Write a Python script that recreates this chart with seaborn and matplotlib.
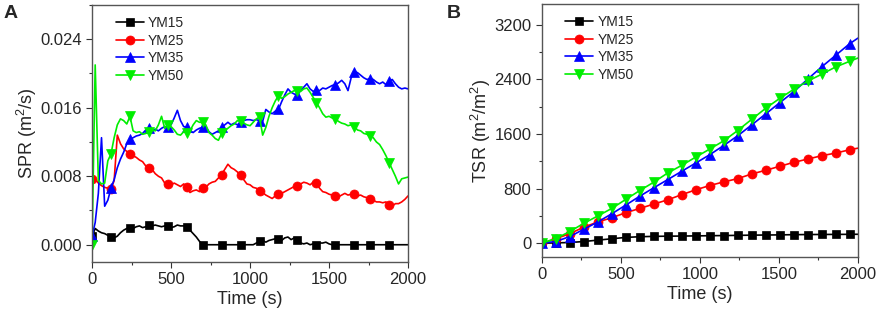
import numpy as np
import matplotlib
matplotlib.use("Agg")
import matplotlib.pyplot as plt
import seaborn as sns
from matplotlib.ticker import MultipleLocator, FormatStrFormatter

# Panel A: smoke production rate, sampled every 20 s
spr_time = np.arange(0, 2001, 20)

spr_ym15 = [
    0.0010, 0.0019, 0.0016, 0.0014, 0.0013, 0.0011, 0.0009, 0.0008, 0.0010, 0.0014,
    0.0017, 0.0019, 0.0020, 0.0019, 0.0021, 0.0022, 0.0020, 0.0021, 0.0023, 0.0022,
    0.0023, 0.0022, 0.0021, 0.0022, 0.0022, 0.0020, 0.0021, 0.0023, 0.0022, 0.0022,
    0.0021, 0.0017, 0.0013, 0.0009, 0.0004,
    0.0, 0.0, 0.0, 0.0, 0.0, 0.0, 0.0, 0.0, 0.0, 0.0, 0.0, 0.0, 0.0, 0.0, 0.0, 0.0, 0.0,
    0.0002, 0.0004, 0.0005, 0.0003, 0.0005, 0.0006, 0.0007, 0.0007, 0.0005, 0.0008,
    0.0009, 0.0006, 0.0008, 0.0006, 0.0002, 0.0001, 0.0002, 0.0000, 0.0001, 0.0000,
    0.0002, 0.0002, 0.0003, 0.0001,
    0.0, 0.0, 0.0, 0.0, 0.0, 0.0, 0.0, 0.0, 0.0, 0.0, 0.0, 0.0, 0.0, 0.0, 0.0, 0.0,
    0.0, 0.0, 0.0, 0.0, 0.0, 0.0, 0.0, 0.0, 0.0,
]
spr_ym25 = [
    0.0077, 0.0077, 0.0072, 0.0069, 0.0067, 0.0066, 0.0065, 0.0075, 0.0128, 0.0118,
    0.0112, 0.0109, 0.0106, 0.0104, 0.0102, 0.0099, 0.0097, 0.0092, 0.0090, 0.0088,
    0.0083, 0.0080, 0.0078, 0.0072, 0.0071, 0.0070, 0.0072, 0.0070, 0.0068, 0.0071,
    0.0068, 0.0061, 0.0063, 0.0064, 0.0062, 0.0066, 0.0067, 0.0071, 0.0073, 0.0074,
    0.0078, 0.0082, 0.0088, 0.0094, 0.0090, 0.0088, 0.0085, 0.0081, 0.0076, 0.0071,
    0.0070, 0.0067, 0.0066, 0.0063, 0.0061, 0.0058, 0.0056, 0.0054, 0.0057, 0.0059,
    0.0060, 0.0062, 0.0064, 0.0066, 0.0068, 0.0069, 0.0071, 0.0073, 0.0072, 0.0070,
    0.0073, 0.0072, 0.0066, 0.0062, 0.0061, 0.0059, 0.0058, 0.0057, 0.0056, 0.0058,
    0.0060, 0.0058, 0.0059, 0.0059, 0.0057, 0.0058, 0.0056, 0.0055, 0.0053, 0.0052,
    0.0050, 0.0050, 0.0049, 0.0050, 0.0046, 0.0045, 0.0048, 0.0048, 0.0050, 0.0053,
    0.0057,
]
spr_ym35 = [
    0.0010, 0.0026, 0.0060, 0.0125, 0.0045, 0.0052, 0.0066, 0.0076, 0.0090, 0.0100,
    0.0108, 0.0118, 0.0123, 0.0125, 0.0127, 0.0128, 0.0130, 0.0134, 0.0136, 0.0133,
    0.0135, 0.0133, 0.0136, 0.0138, 0.0137, 0.0140, 0.0148, 0.0157, 0.0145, 0.0138,
    0.0137, 0.0133, 0.0131, 0.0134, 0.0136, 0.0137, 0.0138, 0.0132, 0.0129, 0.0131,
    0.0133, 0.0137, 0.0140, 0.0143, 0.0140, 0.0142, 0.0140, 0.0143, 0.0145, 0.0146,
    0.0146, 0.0145, 0.0146, 0.0145, 0.0144, 0.0158, 0.0155, 0.0153, 0.0156, 0.0158,
    0.0167, 0.0175, 0.0182, 0.0178, 0.0176, 0.0175, 0.0180, 0.0184, 0.0188, 0.0182,
    0.0179, 0.0181, 0.0180, 0.0183, 0.0182, 0.0184, 0.0186, 0.0187, 0.0189, 0.0192,
    0.0188, 0.0180, 0.0195, 0.0202, 0.0201, 0.0198, 0.0195, 0.0193, 0.0194, 0.0193,
    0.0190, 0.0188, 0.0190, 0.0187, 0.0191, 0.0193, 0.0188, 0.0184, 0.0182, 0.0183,
    0.0182,
]
spr_ym50 = [
    0.0000, 0.0210, 0.0075, 0.0071, 0.0072, 0.0098, 0.0106, 0.0125, 0.0140, 0.0147,
    0.0145, 0.0141, 0.0150, 0.0133, 0.0131, 0.0132, 0.0129, 0.0130, 0.0132, 0.0134,
    0.0133, 0.0140, 0.0150, 0.0136, 0.0140, 0.0138, 0.0134, 0.0129, 0.0128, 0.0132,
    0.0131, 0.0133, 0.0140, 0.0145, 0.0143, 0.0143, 0.0140, 0.0131, 0.0128, 0.0124,
    0.0122, 0.0130, 0.0134, 0.0136, 0.0139, 0.0141, 0.0145, 0.0144, 0.0142, 0.0140,
    0.0139, 0.0143, 0.0147, 0.0149, 0.0128, 0.0137, 0.0150, 0.0160, 0.0168, 0.0174,
    0.0171, 0.0173, 0.0176, 0.0178, 0.0180, 0.0180, 0.0179, 0.0182, 0.0183, 0.0178,
    0.0172, 0.0166, 0.0160, 0.0153, 0.0149, 0.0150, 0.0148, 0.0147, 0.0144, 0.0142,
    0.0141, 0.0139, 0.0140, 0.0138, 0.0134, 0.0133, 0.0130, 0.0129, 0.0127, 0.0125,
    0.0120, 0.0117, 0.0111, 0.0104, 0.0096, 0.0088, 0.0080, 0.0071, 0.0077, 0.0078,
    0.0079,
]

# Panel B: total smoke release
tsr_time = [0, 89, 177, 266, 354, 443, 531, 620, 708, 797, 885, 974, 1062,
            1151, 1239, 1328, 1416, 1505, 1593, 1682, 1770, 1859, 1947, 2000]
tsr_ym15 = [0, 5, 10, 25, 45, 65, 85, 95, 100, 103, 105, 107, 110,
            112, 115, 118, 120, 122, 125, 127, 128, 129, 130, 131]
tsr_ym25 = [0, 65, 140, 235, 310, 373, 446, 509, 572, 635, 710, 781, 844,
            897, 945, 1013, 1067, 1125, 1183, 1231, 1280, 1319, 1367, 1391]
tsr_ym35 = [0, 25, 97, 204, 310, 431, 557, 688, 810, 931, 1052, 1173, 1294,
            1430, 1571, 1731, 1891, 2055, 2215, 2400, 2579, 2749, 2918, 3001]
tsr_ym50 = [0, 68, 170, 291, 398, 509, 640, 771, 892, 1028, 1139, 1260, 1377,
            1498, 1648, 1813, 1973, 2119, 2250, 2371, 2472, 2579, 2661, 2710]

labels = ["YM15", "YM25", "YM35", "YM50"]
colors = ["#000000", "#ff0000", "#0000ff", "#00ee00"]
markers = ["s", "o", "^", "v"]
msizes = [5.5, 6.5, 7, 7]

sns.set_style("ticks")
plt.rcParams["font.family"] = ["Liberation Sans", "DejaVu Sans"]
plt.rcParams["mathtext.fontset"] = "custom"
plt.rcParams["mathtext.rm"] = "Liberation Sans"
plt.rcParams["mathtext.it"] = "Liberation Sans:italic"

fig = plt.figure(figsize=(8.79, 3.11), dpi=100)
ax_a = fig.add_axes([0.1047, 0.158, 0.3595, 0.826])
ax_b = fig.add_axes([0.6163, 0.174, 0.3597, 0.813])

# markers every ~118 s on the 20 s grid
mark_a = [int(round(m / 20)) for m in np.arange(0, 2000, 118)]
mark_b = list(range(len(tsr_time) - 1))

spr_series = [spr_ym15, spr_ym25, spr_ym35, spr_ym50]
tsr_series = [tsr_ym15, tsr_ym25, tsr_ym35, tsr_ym50]

for lab, col, mk, ms, ya in zip(labels, colors, markers, msizes, spr_series):
    sns.lineplot(x=spr_time, y=ya, ax=ax_a, color=col, marker=mk, markersize=ms,
                 markeredgecolor=col, markeredgewidth=0.5, linewidth=1.2,
                 markevery=mark_a, label=lab)

for lab, col, mk, ms, yb in zip(labels, colors, markers, msizes, tsr_series):
    sns.lineplot(x=tsr_time, y=yb, ax=ax_b, color=col, marker=mk, markersize=ms,
                 markeredgecolor=col, markeredgewidth=0.5, linewidth=1.2,
                 markevery=mark_b, label=lab)

ax_a.set_xlim(0, 2000)
ax_a.set_ylim(-0.002, 0.028)
ax_a.yaxis.set_major_locator(MultipleLocator(0.008))
ax_a.yaxis.set_minor_locator(MultipleLocator(0.004))
ax_a.yaxis.set_major_formatter(FormatStrFormatter("%.3f"))
ax_a.set_ylabel("SPR (m$^2$/s)", fontsize=13, labelpad=0.5)

ax_b.set_xlim(0, 2000)
ax_b.set_ylim(-200, 3500)
ax_b.yaxis.set_major_locator(MultipleLocator(800))
ax_b.yaxis.set_minor_locator(MultipleLocator(400))
ax_b.set_ylabel("TSR (m$^2$/m$^2$)", fontsize=13, labelpad=0.5)

for ax in (ax_a, ax_b):
    ax.xaxis.set_major_locator(MultipleLocator(500))
    ax.xaxis.set_minor_locator(MultipleLocator(250))
    ax.set_xlabel("Time (s)", fontsize=13, labelpad=3)
    ax.tick_params(which="major", direction="out", length=4, width=0.8,
                   labelsize=12, color="#333333")
    ax.tick_params(which="minor", direction="out", length=2.5, width=0.8,
                   color="#333333")
    for sp in ax.spines.values():
        sp.set_visible(True)
        sp.set_color("#555555")
        sp.set_linewidth(1.0)
    ax.legend(loc="upper left", frameon=False, fontsize=10, handlelength=2.0,
              labelspacing=0.25, borderaxespad=0.4, handletextpad=0.3,
              bbox_to_anchor=(0.04, 1.0))

fig.text(0.004, 0.985, "A", fontsize=14, fontweight="bold", va="top")
fig.text(0.508, 0.985, "B", fontsize=14, fontweight="bold", va="top")

fig.savefig("out.png", dpi=100)
